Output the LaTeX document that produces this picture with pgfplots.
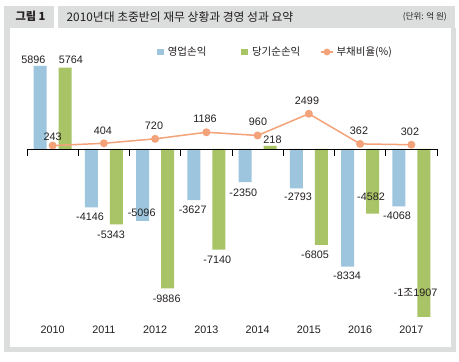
\documentclass[border=0pt]{standalone}
\usepackage{pgfplots}
\pgfplotsset{compat=1.18}
\usepackage{fontspec}
\setmainfont{Liberation Sans}
\newfontfamily\kr{Noto Sans CJK KR}
\definecolor{cblue}{HTML}{9DC6DE}
\definecolor{cgreen}{HTML}{A9C467}
\definecolor{corange}{HTML}{F4A27A}
\definecolor{cgray}{HTML}{DCDDDD}
\definecolor{ctext}{HTML}{231F20}
\newcommand{\lbl}[3]{\node[font=\fontsize{10.8}{12}\selectfont, text=ctext, inner sep=0pt] at (#1pt,362pt-#2pt) {#3};}
\begin{document}
\begin{tikzpicture}
\fill[white] (0pt,0pt) rectangle (459pt,362pt);
% header
\fill[cgray] (4pt,356pt) rectangle (54pt,334pt);
\fill[cgray] (58pt,356pt) rectangle (455pt,334pt);
% frame
\fill[cgray] (4pt,10pt) rectangle (456pt,334pt);
\fill[white] (10pt,15pt) rectangle (451pt,334pt);
\node[font=\kr\bfseries\fontsize{11.2}{13}\selectfont, text=ctext, inner sep=0pt] at (30.5pt,345.3pt) {그림 1};
\node[font=\kr\fontsize{11.8}{13}\selectfont, text=ctext, inner sep=0pt, anchor=west] at (66.5pt,345.3pt) {2010년대 초중반의 재무 상황과 경영 성과 요약};
\node[font=\kr\fontsize{8.5}{10}\selectfont, text=ctext, inner sep=0pt, anchor=east] at (447pt,345.3pt) {(단위: 억 원)};
\begin{axis}[
  at={(27pt,40pt)}, anchor=south west,
  width=410pt, height=264.65pt, scale only axis,
  xmin=-0.5, xmax=7.5, ymin=-12270, ymax=6500,
  clip=false,
  axis line style={draw=none},
  tick style={draw=none},
  ytick=\empty,
  xtick={0,1,2,3,4,5,6,7},
  xticklabels={2010,2011,2012,2013,2014,2015,2016,2017},
  xticklabel style={font=\fontsize{10.8}{12}\selectfont, text=ctext, anchor=base, yshift=-11.5pt, inner sep=0pt},
  legend columns=3,
  legend style={at={(0.3171,1.0202)}, anchor=west, draw=none, fill=none, inner sep=0pt,
    font=\kr\fontsize{10.5}{12}\selectfont, text=ctext,
    nodes={inner sep=0pt, anchor=west},
    /tikz/column 1/.style={column sep=4pt},
    /tikz/column 2/.style={column sep=35pt},
    /tikz/column 3/.style={column sep=4pt},
    /tikz/column 4/.style={column sep=20pt},
    /tikz/column 5/.style={column sep=3pt}},
]
\addplot[ybar, bar width=13pt, bar shift=-12.5pt, fill=cblue, draw=none,
  legend image code/.code={\fill[cblue] (0pt,-3.3pt) rectangle (6.6pt,3.3pt);}]
  coordinates {(0,5896) (1,-4146) (2,-5096) (3,-3627) (4,-2350) (5,-2793) (6,-8334) (7,-4068)};
\addlegendentry{영업손익}
\addplot[ybar, bar width=13pt, bar shift=12.5pt, fill=cgreen, draw=none,
  legend image code/.code={\fill[cgreen] (0pt,-3.3pt) rectangle (6.6pt,3.3pt);}]
  coordinates {(0,5764) (1,-5343) (2,-9886) (3,-7140) (4,218) (5,-6805) (6,-4582) (7,-11907)};
\addlegendentry{당기순손익}
\addplot[corange, line width=1.5pt, mark=*, mark size=3.2pt, mark options={fill=corange, draw=corange},
  legend image code/.code={\draw[corange, line width=1.2pt] (0pt,0pt) -- (12pt,0pt); \fill[corange] (6pt,0pt) circle (2.6pt);}]
  coordinates {(0,243) (1,404) (2,720) (3,1186) (4,960) (5,2499) (6,362) (7,302)};
\addlegendentry{부채비율(\%)}
\end{axis}
\draw[black, line width=0.8pt] (27pt,213pt) -- (437pt,213pt);
\foreach \k in {0,...,8} {\draw[black, line width=0.8pt] (27pt+51.25pt*\k,213pt) -- ++(0pt,-7pt);}
% bar value labels
\lbl{33.3}{60}{5896}
\lbl{70.8}{60}{5764}
\lbl{90}{216.7}{-4146}
\lbl{111}{234.3}{-5343}
\lbl{141.7}{212.7}{-5096}
\lbl{166.7}{299}{-9886}
\lbl{192.7}{209.3}{-3627}
\lbl{217.3}{260}{-7140}
\lbl{243.3}{192.7}{-2350}
\lbl{272.5}{140}{218}
\lbl{298}{196.7}{-2793}
\lbl{315}{254.3}{-6805}
\lbl{347}{276}{-8334}
\lbl{371}{197}{-4582}
\lbl{397}{215.7}{-4068}
\lbl{415.5}{293}{-1{\kr 조}1907}
% line value labels
\lbl{52.7}{136.7}{243}
\lbl{103}{130.7}{404}
\lbl{154}{126}{720}
\lbl{205}{119}{1186}
\lbl{258}{122}{960}
\lbl{307}{101}{2499}
\lbl{359}{130.7}{362}
\lbl{410}{131.7}{302}
\end{tikzpicture}
\end{document}
